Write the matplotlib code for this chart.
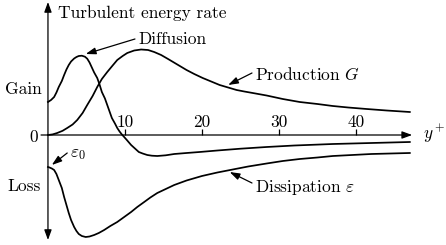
import matplotlib
matplotlib.use("Agg")
import matplotlib.pyplot as plt

plt.rcParams["font.family"] = ["cmr10", "DejaVu Serif"]
plt.rcParams["mathtext.fontset"] = "cm"
plt.rcParams["axes.formatter.use_mathtext"] = True

# ── curves (x in y+, y in arbitrary rate units) ──
prod_x = [0, 0.6, 1.2, 1.9, 2.5, 3.2, 3.8, 4.5, 5.1, 5.8, 6.4, 7.0, 7.7, 8.4,
          9.0, 9.7, 10.3, 11.2, 12.1, 13.0, 13.8, 14.7, 15.6, 16.8, 18.0, 19.0,
          20.1, 21.2, 22.3, 23.4, 24.5, 25.5, 26.6, 28.4, 30.5, 32.7, 35.0,
          37.0, 39.0, 41.4, 44.0, 47.0]
prod_y = [0, 0.6, 2, 4.2, 7, 10.5, 15, 22, 30, 39, 48, 56, 63, 69.5,
          75, 79, 82, 84.5, 85.5, 85, 83, 80, 76, 70.5, 65, 61,
          57, 53.5, 50, 47.5, 45, 43.5, 42, 39.5, 36, 33, 31,
          29, 27.5, 26, 24.5, 23]

diff_x = [0, 0.4, 0.8, 1.1, 1.4, 1.8, 2.1, 2.4, 2.7, 3.0, 3.4, 3.7, 4.0, 4.4,
          4.8, 5.1, 5.4, 5.7, 6.0, 6.4, 6.7, 7.0, 7.4, 7.7, 8.0, 8.3, 8.7,
          9.0, 9.3, 9.6, 9.9, 10.3, 10.8, 11.3, 11.8, 12.3, 12.9, 13.5, 14.2,
          15.3, 16.4, 18.0, 19.7, 22.0, 25.0, 28.4, 32.0, 37.0, 42.0, 47.0]
diff_y = [33, 35, 38, 42.5, 48, 54, 60, 65.5, 70, 73.5, 76.5, 78, 79, 79.3,
          78.3, 76.3, 72.5, 67.5, 62.5, 57, 50.5, 43, 36.5, 30, 23.5, 17, 11.5,
          7, 3.5, 0.5, -2, -5.5, -10, -13.5, -17, -18.5, -20, -20.7, -21,
          -20.3, -19, -18, -17, -15.5, -13.7, -12, -10.5, -9, -8, -7]

diss_x = [0, 0.2, 0.5, 0.8, 1.1, 1.4, 1.8, 2.1, 2.4, 2.7, 3.0, 3.4, 3.7, 4.0,
          4.4, 4.9, 5.4, 6.0, 6.6, 7.3, 8.1, 9.0, 9.9, 10.8, 11.6, 12.5,
          13.3, 14.2, 15.3, 16.4, 18.0, 20.0, 22.0, 24.0, 26.0, 28.4, 30.5,
          32.7, 35.0, 37.0, 39.5, 42.0, 44.5, 47.0]
diss_y = [-32, -32.5, -33.5, -35, -39, -45, -53, -62, -70, -78, -85, -92, -96, -99,
          -101, -102, -101.5, -100, -98, -95, -91, -87, -82, -77, -72, -67,
          -62.5, -58, -54, -50, -45.5, -41, -37.5, -34.5, -31.5, -28.5, -26,
          -24, -22.5, -21, -20, -19, -18.5, -18]

tick_vals = [10, 20, 30, 40]

fig = plt.figure(figsize=(4.46, 2.45), dpi=100)
ax = fig.add_axes([0, 0, 1, 1])
ax.axis("off")
ax.set_xlim(-6.23, 51.7)
ax.set_ylim(-110, 135)

lw = 1.25
for xs, ys in [(prod_x, prod_y), (diff_x, diff_y), (diss_x, diss_y)]:
    ax.plot(xs, ys, color="black", lw=lw, solid_joinstyle="round")

axis_arrow = dict(arrowstyle="-|>,head_length=0.6,head_width=0.22", lw=0.9,
                  color="black", shrinkA=0, shrinkB=0)
# vertical axis (both directions)
ax.annotate("", xy=(0, 133), xytext=(0, 0), arrowprops=axis_arrow)
ax.annotate("", xy=(0, -105), xytext=(0, 0), arrowprops=axis_arrow)
# horizontal axis
ax.annotate("", xy=(47.3, 0), xytext=(-0.9, 0), arrowprops=axis_arrow)

ax.vlines(tick_vals, 0, 6, color="black", lw=0.9)
fs = 12.5
for t in tick_vals:
    ax.text(t, 8, str(t), ha="center", va="baseline", fontsize=fs)

ax.text(1.3, 117, "Turbulent energy rate", ha="left", va="baseline", fontsize=fs)
ax.text(-5.6, 41, "Gain", ha="left", va="baseline", fontsize=fs)
ax.text(-1.3, -2, "0", ha="right", va="center", fontsize=fs)
ax.text(-5.3, -56, "Loss", ha="left", va="baseline", fontsize=fs)
ax.text(48.7, -4, r"$y^+$", ha="left", va="baseline", fontsize=fs)

lab_arrow = dict(arrowstyle="-|>,head_length=0.6,head_width=0.2", lw=0.9,
                 color="black", shrinkA=0, shrinkB=0)
ax.text(11.7, 91, "Diffusion", ha="left", va="baseline", fontsize=fs)
ax.annotate("", xy=(4.9, 81), xytext=(11.3, 96), arrowprops=lab_arrow)

ax.text(26.9, 55, r"Production $G$", ha="left", va="baseline", fontsize=fs)
ax.annotate("", xy=(23.4, 50), xytext=(26.5, 62), arrowprops=lab_arrow)

ax.text(26.9, -57, r"Dissipation $\varepsilon$", ha="left", va="baseline", fontsize=fs)
ax.annotate("", xy=(23.6, -37), xytext=(26.5, -48), arrowprops=lab_arrow)

ax.text(2.86, -22, r"$\varepsilon_0$", ha="left", va="baseline", fontsize=fs)
ax.annotate("", xy=(0.5, -30), xytext=(2.5, -18), arrowprops=lab_arrow)

fig.savefig("out.png", dpi=100)
